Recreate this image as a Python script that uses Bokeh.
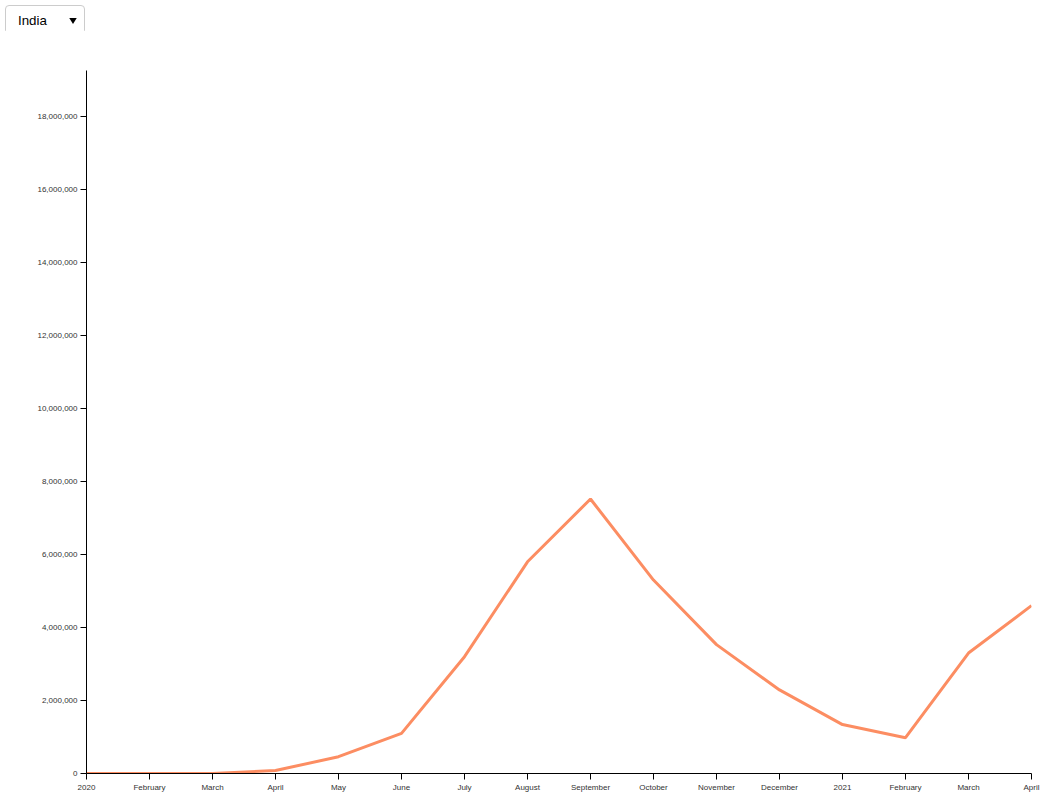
from bokeh.plotting import figure
from bokeh.models import Select, Label, FixedTicker, NumeralTickFormatter, Range1d
from bokeh.layouts import column
from bokeh.embed import file_html
from bokeh.resources import INLINE

months = ["2020", "February", "March", "April", "May", "June", "July", "August",
          "September", "October", "November", "December", "2021", "February",
          "March", "April"]
cases = [0, 2, 1400, 80000, 460000, 1100000, 3200000, 5800000, 7520000,
         5300000, 3530000, 2290000, 1340000, 980000, 3300000, 4600000]
y_max = 19260000

idx = list(range(len(months)))

p = figure(width=1049, height=773, output_backend="svg", toolbar_location=None,
           x_range=Range1d(0, len(months) - 1), y_range=Range1d(0, y_max),
           min_border_left=86, min_border_right=18, min_border_top=40,
           min_border_bottom=30)
p.outline_line_color = None
p.grid.grid_line_color = None

p.line(idx, cases, color="#fc8d62", line_width=3)

for ax in (p.xaxis[0], p.yaxis[0]):
    ax.axis_line_color = "black"
    ax.major_tick_line_color = "black"
    ax.major_tick_out = 6
    ax.major_tick_in = 0
    ax.minor_tick_line_color = None
    ax.major_label_text_font = "Liberation Sans"
    ax.major_label_text_font_size = "8px"
    ax.major_label_text_color = "#333333"
    ax.major_label_standoff = 3

p.xaxis.ticker = FixedTicker(ticks=idx)
p.xaxis.major_label_overrides = {i: m for i, m in enumerate(months)}
p.yaxis.ticker = FixedTicker(ticks=list(range(0, 18000001, 2000000)))
p.yaxis.formatter = NumeralTickFormatter(format="0,0")

p.add_layout(Label(x=-81, y=719, x_units="screen", y_units="screen",
                   text="Number of New Covid Cases", text_font="Liberation Sans",
                   text_font_size="8px", text_color="#333333"))
p.add_layout(Label(x=460, y=-30, x_units="screen", y_units="screen",
                   text="Month", text_font="Liberation Sans", text_align="center",
                   text_font_size="8px", text_color="#333333"))

sel = Select(value="India", options=["India"], width=80, height=20)

layout = column(sel, p, spacing=0)
open("out.html", "w").write(file_html(layout, INLINE))
